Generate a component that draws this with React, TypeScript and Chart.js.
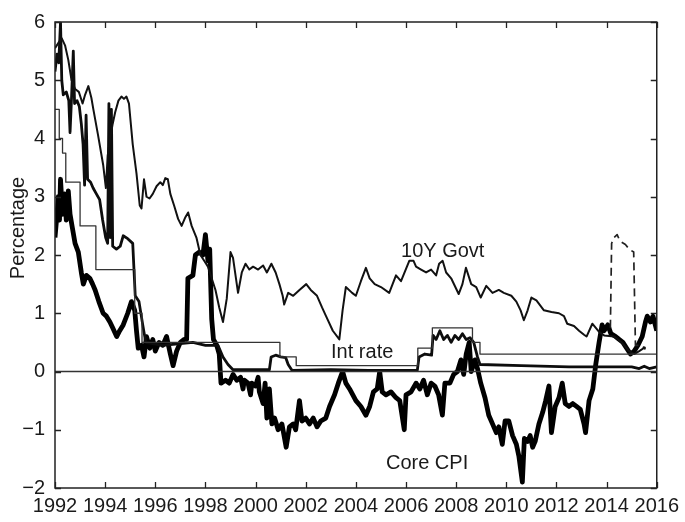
import React, { useEffect, useRef } from 'react';
import { Chart, registerables } from 'chart.js';

Chart.register(...registerables);

// ---- tick values ----
const xTicks = [1992, 1994, 1996, 1998, 2000, 2002, 2004, 2006, 2008, 2010, 2012, 2014, 2016];
const yTicks = [-2, -1, 0, 1, 2, 3, 4, 5, 6];

// ---- series: [year, percentage] ----
const govt10y: [number, number][] = [
  [1992.0, 5.55], [1992.15, 5.65], [1992.27, 5.72], [1992.4, 5.6], [1992.53, 5.35], [1992.66, 5.0],
  [1992.8, 4.85], [1992.95, 4.8], [1993.1, 4.6], [1993.2, 4.75], [1993.33, 4.9], [1993.45, 4.7],
  [1993.53, 4.5], [1993.72, 4.05], [1993.92, 3.55], [1994.03, 3.15], [1994.1, 3.7], [1994.2, 4.0],
  [1994.3, 4.25], [1994.4, 4.45], [1994.53, 4.65], [1994.65, 4.72], [1994.75, 4.68], [1994.85, 4.72],
  [1994.95, 4.6], [1995.1, 3.9], [1995.25, 3.4], [1995.38, 2.85], [1995.45, 2.8], [1995.55, 3.3],
  [1995.65, 3.0], [1995.77, 2.97], [1995.9, 3.05], [1996.05, 3.18], [1996.2, 3.25], [1996.3, 3.2],
  [1996.4, 3.32], [1996.5, 3.3], [1996.6, 3.05], [1996.75, 2.85], [1996.91, 2.62], [1997.05, 2.5],
  [1997.2, 2.65], [1997.31, 2.73], [1997.45, 2.5], [1997.64, 2.3], [1997.8, 2.0], [1997.95, 1.9],
  [1998.1, 1.8], [1998.25, 1.6], [1998.4, 1.4], [1998.55, 1.1], [1998.7, 0.85], [1998.85, 1.25],
  [1999.0, 2.05], [1999.1, 1.95], [1999.3, 1.35], [1999.45, 1.7], [1999.6, 1.85], [1999.75, 1.75],
  [1999.9, 1.8], [2000.1, 1.75], [2000.3, 1.82], [2000.45, 1.7], [2000.63, 1.85], [2000.8, 1.7],
  [2000.95, 1.5], [2001.08, 1.3], [2001.14, 1.15], [2001.3, 1.35], [2001.5, 1.3], [2001.75, 1.4],
  [2002.02, 1.5], [2002.2, 1.4], [2002.45, 1.3], [2002.65, 1.1], [2002.81, 0.95], [2003.08, 0.7],
  [2003.34, 0.55], [2003.47, 1.05], [2003.6, 1.45], [2003.85, 1.35], [2004.0, 1.3], [2004.2, 1.55],
  [2004.4, 1.78], [2004.55, 1.6], [2004.75, 1.5], [2005.0, 1.45], [2005.33, 1.35], [2005.6, 1.65],
  [2005.8, 1.55], [2006.13, 1.9], [2006.3, 1.9], [2006.4, 1.8], [2006.6, 1.75], [2006.8, 1.7],
  [2007.0, 1.75], [2007.2, 1.65], [2007.32, 1.85], [2007.46, 1.9], [2007.6, 1.7], [2007.8, 1.6],
  [2008.1, 1.33], [2008.25, 1.5], [2008.39, 1.78], [2008.6, 1.5], [2008.8, 1.45], [2008.98, 1.27],
  [2009.2, 1.47], [2009.45, 1.35], [2009.7, 1.4], [2009.9, 1.35], [2010.2, 1.3], [2010.4, 1.2],
  [2010.57, 1.05], [2010.7, 0.88], [2010.85, 1.05], [2011.0, 1.27], [2011.2, 1.22], [2011.5, 1.05],
  [2011.8, 1.02], [2012.1, 1.0], [2012.3, 0.95], [2012.43, 0.82], [2012.7, 0.78], [2012.9, 0.7],
  [2013.1, 0.63], [2013.2, 0.6], [2013.43, 0.82], [2013.7, 0.68], [2013.9, 0.62], [2014.3, 0.6],
  [2014.6, 0.5], [2014.9, 0.35], [2015.1, 0.3], [2015.3, 0.35], [2015.55, 0.42],
];

const callRate: [number, number][] = [
  [1992.0, 5.15], [1992.08, 5.45], [1992.15, 5.3], [1992.22, 6.0], [1992.27, 5.0], [1992.33, 4.75],
  [1992.45, 4.8], [1992.55, 4.65], [1992.6, 4.1], [1992.66, 4.7], [1992.73, 5.5], [1992.78, 4.6],
  [1992.88, 4.65], [1992.97, 4.55], [1993.05, 4.25], [1993.12, 3.9], [1993.18, 3.2], [1993.24, 4.4],
  [1993.3, 3.3], [1993.42, 3.25], [1993.52, 3.15], [1993.65, 3.05], [1993.78, 2.95], [1993.9, 2.6],
  [1994.02, 2.3], [1994.1, 2.2], [1994.15, 4.6], [1994.2, 2.3], [1994.25, 4.5], [1994.3, 2.15],
  [1994.45, 2.1], [1994.6, 2.15], [1994.72, 2.33], [1994.9, 2.28], [1995.1, 2.2], [1995.2, 1.3],
  [1995.35, 1.2], [1995.5, 0.8], [1995.62, 0.5], [1996.3, 0.45], [1997.0, 0.48], [1997.5, 0.5],
  [1998.0, 0.45], [1998.5, 0.45], [1998.7, 0.25], [1998.9, 0.12], [1999.1, 0.03], [2000.55, 0.03],
  [2000.62, 0.25], [2000.8, 0.28], [2001.0, 0.25], [2001.2, 0.24], [2001.3, 0.12], [2001.45, 0.02],
  [2003.0, 0.03], [2004.5, 0.02], [2006.45, 0.02], [2006.52, 0.25], [2006.75, 0.3], [2007.02, 0.28],
  [2007.08, 0.62], [2007.2, 0.55], [2007.35, 0.7], [2007.5, 0.55], [2007.65, 0.62], [2007.8, 0.5],
  [2007.95, 0.62], [2008.1, 0.55], [2008.25, 0.65], [2008.4, 0.55], [2008.55, 0.58], [2008.7, 0.5],
  [2008.85, 0.25], [2008.95, 0.12], [2010.6, 0.1], [2012.5, 0.08], [2015.0, 0.08], [2015.3, 0.05],
  [2015.5, 0.09], [2015.7, 0.05], [2016.0, 0.08],
];

const discountRate: [number, number][] = [
  [1992.0, 4.5], [1992.17, 4.0], [1992.3, 3.75], [1992.43, 3.25], [1993.0, 2.5], [1993.63, 1.75],
  [1995.18, 1.0], [1995.47, 0.5], [2000.97, 0.25], [2001.62, 0.1], [2006.47, 0.4], [2007.05, 0.75],
  [2008.65, 0.5], [2008.95, 0.3], [2016.0, 0.3],
];

const coreCpi: [number, number][] = [
  [1992.0, 2.3], [1992.08, 2.7], [1992.13, 3.0], [1992.18, 2.6], [1992.22, 3.3], [1992.3, 2.7],
  [1992.38, 3.05], [1992.45, 2.6], [1992.53, 3.1], [1992.6, 2.7], [1992.7, 2.45], [1992.8, 2.2],
  [1992.93, 2.05], [1993.05, 1.7], [1993.13, 1.5], [1993.25, 1.65], [1993.39, 1.6], [1993.5, 1.5],
  [1993.6, 1.4], [1993.75, 1.2], [1993.92, 1.0], [1994.05, 0.95], [1994.19, 0.85], [1994.3, 0.75],
  [1994.46, 0.6], [1994.58, 0.7], [1994.72, 0.8], [1994.9, 1.0], [1995.05, 1.2], [1995.18, 1.05],
  [1995.25, 0.7], [1995.32, 0.4], [1995.45, 0.45], [1995.55, 0.25], [1995.65, 0.6], [1995.78, 0.4],
  [1995.9, 0.55], [1996.0, 0.35], [1996.15, 0.5], [1996.3, 0.45], [1996.45, 0.6], [1996.6, 0.3],
  [1996.71, 0.1], [1996.85, 0.35], [1997.0, 0.5], [1997.15, 0.55], [1997.25, 0.55], [1997.3, 1.6],
  [1997.5, 1.65], [1997.6, 2.0], [1997.75, 2.05], [1997.9, 2.0], [1998.0, 2.35], [1998.1, 1.9],
  [1998.17, 2.1], [1998.25, 0.9], [1998.32, 0.55], [1998.45, 0.45], [1998.55, 0.3], [1998.62, -0.2],
  [1998.8, -0.15], [1998.95, -0.2], [1999.1, -0.05], [1999.25, -0.15], [1999.4, -0.1], [1999.5, -0.3],
  [1999.55, -0.15], [1999.7, -0.2], [1999.8, -0.4], [1999.85, -0.2], [2000.0, -0.25], [2000.1, -0.1],
  [2000.15, -0.35], [2000.3, -0.55], [2000.38, -0.2], [2000.45, -0.8], [2000.55, -0.3], [2000.65, -0.9],
  [2000.76, -0.8], [2000.9, -1.0], [2001.05, -0.9], [2001.22, -1.3], [2001.35, -0.95], [2001.5, -0.9],
  [2001.6, -1.0], [2001.75, -0.5], [2001.85, -0.85], [2002.0, -0.8], [2002.15, -0.9], [2002.3, -0.8],
  [2002.45, -0.95], [2002.6, -0.85], [2002.8, -0.8], [2002.95, -0.6], [2003.15, -0.4], [2003.3, -0.2],
  [2003.47, 0.0], [2003.6, -0.2], [2003.75, -0.3], [2004.0, -0.5], [2004.2, -0.6], [2004.4, -0.75],
  [2004.55, -0.6], [2004.7, -0.35], [2004.85, -0.3], [2004.95, 0.0], [2005.05, -0.35], [2005.2, -0.4],
  [2005.4, -0.35], [2005.6, -0.45], [2005.75, -0.5], [2005.93, -1.0], [2006.0, -0.4], [2006.2, -0.35],
  [2006.4, -0.2], [2006.55, -0.3], [2006.7, -0.15], [2006.85, -0.4], [2007.0, -0.2], [2007.15, -0.25],
  [2007.3, -0.4], [2007.45, -0.75], [2007.55, -0.2], [2007.75, -0.2], [2007.9, -0.05], [2008.05, 0.0],
  [2008.19, 0.2], [2008.3, -0.05], [2008.4, 0.3], [2008.52, 0.5], [2008.6, 0.0], [2008.75, 0.2],
  [2008.85, 0.05], [2008.98, -0.2], [2009.15, -0.45], [2009.3, -0.75], [2009.45, -0.9], [2009.6, -1.05],
  [2009.7, -0.95], [2009.84, -1.25], [2009.95, -0.85], [2010.1, -0.85], [2010.25, -1.1], [2010.4, -1.25],
  [2010.5, -1.45], [2010.64, -1.9], [2010.72, -1.15], [2010.85, -1.2], [2010.95, -1.1], [2011.05, -1.3],
  [2011.15, -1.2], [2011.3, -0.9], [2011.45, -0.7], [2011.57, -0.5], [2011.7, -0.25], [2011.8, -1.05],
  [2011.95, -0.6], [2012.1, -0.45], [2012.23, -0.2], [2012.35, -0.55], [2012.5, -0.6], [2012.65, -0.55],
  [2012.8, -0.6], [2012.95, -0.65], [2013.1, -0.9], [2013.16, -1.05], [2013.3, -0.5], [2013.45, -0.3],
  [2013.56, 0.1], [2013.7, 0.5], [2013.82, 0.8], [2013.9, 0.7], [2014.05, 0.8], [2014.17, 0.65],
  [2014.36, 0.6], [2014.5, 0.55], [2014.65, 0.5], [2014.8, 0.4], [2014.95, 0.3], [2015.1, 0.35],
  [2015.25, 0.45], [2015.42, 0.6], [2015.55, 0.85], [2015.62, 0.95], [2015.75, 0.85], [2015.85, 0.95],
  [2016.0, 0.7],
];

const coreCpiWithTax: [number, number][] = [
  [2014.15, 0.75], [2014.2, 2.2], [2014.3, 2.3], [2014.42, 2.35], [2014.5, 2.27], [2014.6, 2.22],
  [2014.75, 2.18], [2014.9, 2.1], [2015.08, 2.05], [2015.15, 0.45], [2015.4, 0.45], [2015.55, 0.38],
];

const zeroLine: [number, number][] = [[1992, 0], [2016, 0]];

const seriesNames = ['10Y Govt', 'Int rate', 'Core CPI'];
const axisTitle = 'Percentage';

const FONT = '"Liberation Sans", Arial, Helvetica, sans-serif';
const INK = '#1a1a1a';

const toXY = (arr: [number, number][]) => arr.map(([x, y]) => ({ x, y }));
const fmtNum = (v: number) => (v < 0 ? '\u2212' + Math.abs(v) : String(v));

const framePlugin = {
  id: 'framePlugin',
  afterDraw(chart: any) {
    const { ctx, chartArea, scales } = chart;
    const { left, right, top, bottom } = chartArea;
    const xs = scales.x;
    const ys = scales.y;
    ctx.save();
    ctx.strokeStyle = '#222';
    ctx.lineWidth = 1.5;
    ctx.strokeRect(left, top, right - left, bottom - top);
    ctx.lineWidth = 1.3;
    ctx.beginPath();
    const tl = 6;
    for (const v of xTicks) {
      const px = Math.round(xs.getPixelForValue(v)) + 0.5;
      ctx.moveTo(px, bottom);
      ctx.lineTo(px, bottom - tl);
      ctx.moveTo(px, top);
      ctx.lineTo(px, top + tl);
    }
    for (const v of yTicks) {
      const py = Math.round(ys.getPixelForValue(v)) + 0.5;
      ctx.moveTo(left, py);
      ctx.lineTo(left + tl, py);
      ctx.moveTo(right, py);
      ctx.lineTo(right - tl, py);
    }
    ctx.stroke();

    // series labels
    ctx.fillStyle = INK;
    ctx.font = '20px ' + FONT;
    ctx.textAlign = 'left';
    ctx.textBaseline = 'alphabetic';
    const anchors: [number, number][] = [[2005.8, 1.97], [2003.01, 0.235], [2005.2, -1.67]];
    seriesNames.forEach((name, i) => {
      ctx.fillText(name, xs.getPixelForValue(anchors[i][0]), ys.getPixelForValue(anchors[i][1]));
    });

    // y-axis title
    ctx.translate(24, 228);
    ctx.rotate(-Math.PI / 2);
    ctx.textAlign = 'center';
    ctx.fillText(axisTitle, 0, 0);
    ctx.restore();
  },
};

export default function App() {
  const canvasRef = useRef<HTMLCanvasElement | null>(null);

  useEffect(() => {
    if (!canvasRef.current) return;
    const chart = new Chart(canvasRef.current, {
      type: 'line',
      data: {
        datasets: [
          { data: toXY(zeroLine), borderColor: '#333', borderWidth: 1.3 },
          { data: toXY(discountRate), borderColor: '#333', borderWidth: 1.3, stepped: true },
          { data: toXY(govt10y), borderColor: '#111', borderWidth: 2.0 },
          { data: toXY(callRate), borderColor: '#0d0d0d', borderWidth: 2.8 },
          { data: toXY(coreCpiWithTax), borderColor: '#222', borderWidth: 1.7, borderDash: [8, 5] },
          { data: toXY(coreCpi), borderColor: '#000', borderWidth: 4.8 },
        ],
      } as any,
      options: {
        responsive: false,
        animation: false,
        devicePixelRatio: 1,
        layout: { padding: { top: 12, right: 27, left: 0, bottom: 0 } },
        plugins: { legend: { display: false }, tooltip: { enabled: false } },
        elements: {
          point: { radius: 0 },
          line: { tension: 0, borderJoinStyle: 'round', borderCapStyle: 'butt', fill: false },
        },
        scales: {
          x: {
            type: 'linear',
            min: 1992,
            max: 2016,
            afterBuildTicks: (s: any) => {
              s.ticks = xTicks.map((v) => ({ value: v }));
            },
            afterFit: (s: any) => {
              s.height = 34;
            },
            grid: { display: false, drawTicks: false },
            border: { display: false },
            ticks: {
              autoSkip: false,
              maxRotation: 0,
              padding: 6,
              color: INK,
              font: { family: FONT, size: 20 },
              callback: (v: any) => String(v),
            },
          },
          y: {
            type: 'linear',
            min: -2,
            max: 6,
            afterBuildTicks: (s: any) => {
              s.ticks = yTicks.map((v) => ({ value: v }));
            },
            afterFit: (s: any) => {
              s.width = 55;
            },
            grid: { display: false, drawTicks: false },
            border: { display: false },
            ticks: {
              padding: 10,
              color: INK,
              font: { family: FONT, size: 20 },
              callback: (v: any) => fmtNum(Number(v)),
            },
          },
        },
      } as any,
      plugins: [framePlugin],
    });
    return () => chart.destroy();
  }, []);

  return (
    <div style={{ position: 'absolute', left: 0, top: 0, width: 685, height: 522, background: '#fff' }}>
      <canvas ref={canvasRef} width={685} height={522} />
    </div>
  );
}
